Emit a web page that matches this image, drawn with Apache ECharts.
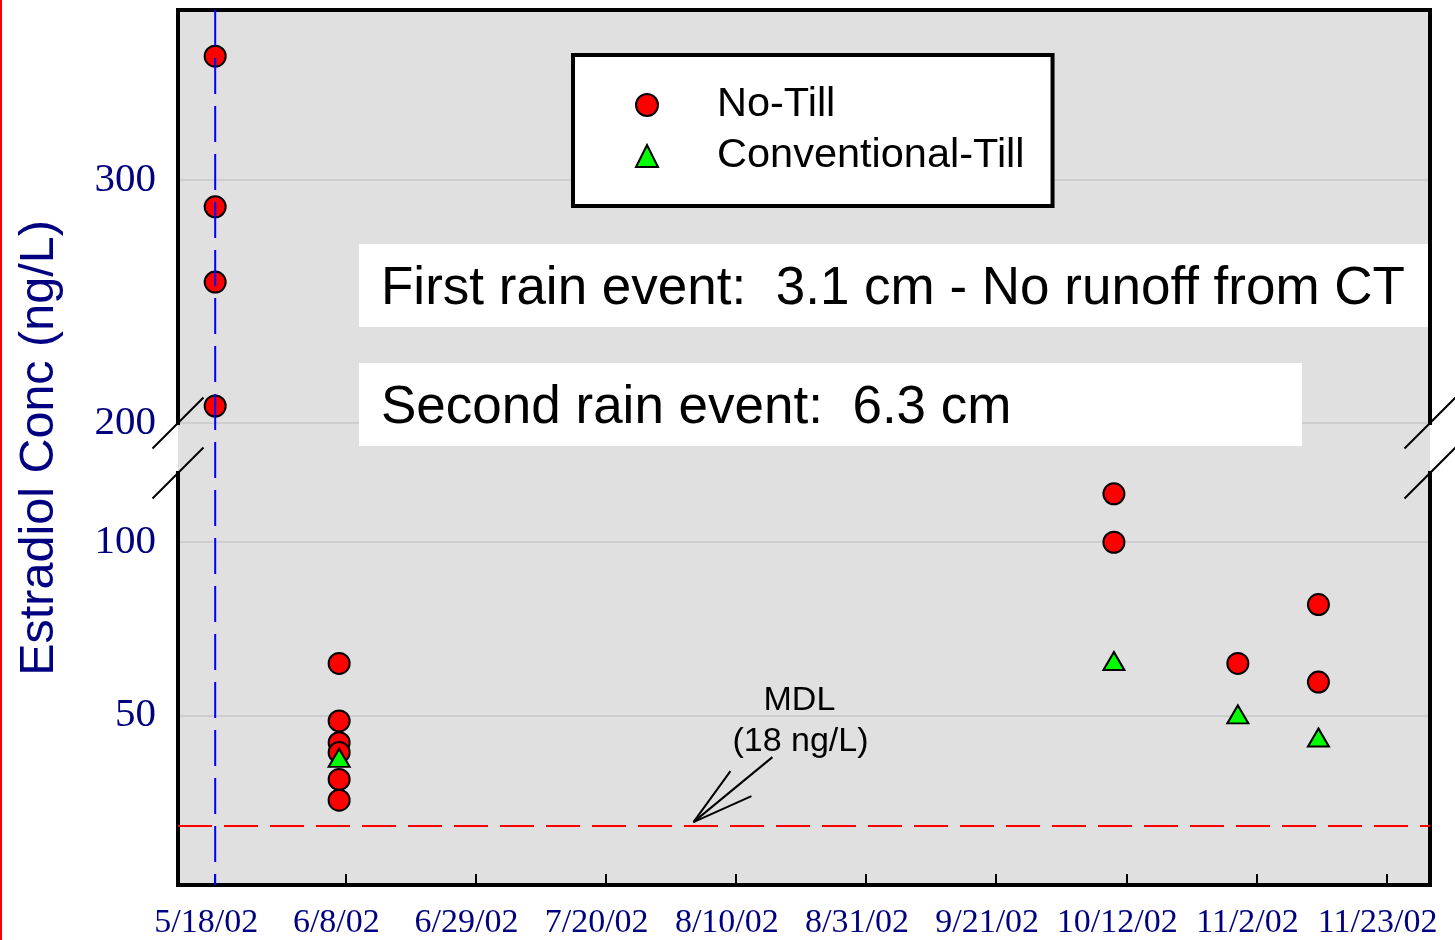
<!DOCTYPE html>
<html>
<head>
<meta charset="utf-8">
<script src="https://cdn.jsdelivr.net/npm/echarts@6/dist/echarts.min.js"></script>
<style>
  html, body { margin: 0; padding: 0; background: #ffffff; }
  #chart { width: 1455px; height: 940px; }
</style>
</head>
<body>
<div id="chart"></div>
<script>
// Estradiol in runoff, 2002 season (ng/L)
const noTillDates = [
  '2002-05-18', '2002-05-18', '2002-05-18', '2002-05-18',
  '2002-06-07', '2002-06-07', '2002-06-07', '2002-06-07', '2002-06-07', '2002-06-07',
  '2002-10-10', '2002-10-10',
  '2002-10-30',
  '2002-11-12', '2002-11-12'
];
const noTillConc = [351, 289, 258, 207, 65, 48.4, 42.1, 39.3, 31.5, 25.5, 114, 100, 65, 82, 59.6];

const convTillDates = ['2002-06-07', '2002-10-10', '2002-10-30', '2002-11-12'];
const convTillConc = [37.7, 65.7, 50.3, 43.6];

// Axis ticks
const dateTicks = ['2002-05-18', '2002-06-08', '2002-06-29', '2002-07-20', '2002-08-10',
                   '2002-08-31', '2002-09-21', '2002-10-12', '2002-11-02', '2002-11-23'];
const upperTicks = [200, 300];
const lowerTicks = [50, 100];

// Broken y-axis: two ranges
const upperRange = [200, 370];
const lowerRange = [1, 120];
const dateRange = ['2002-05-12', '2002-11-30'];

const mdlValue = 18;               // method detection limit
const applicationDate = '2002-05-18';
const mdlArrowDate = '2002-08-03';

const rainNotes = [
  'First rain event:  3.1 cm - No runoff from CT',
  'Second rain event:  6.3 cm'
];

function toTime(s) {
  const p = s.split('-').map(Number);
  return Date.UTC(p[0], p[1] - 1, p[2]);
}
function fmtDate(v) {
  const d = new Date(v);
  return (d.getUTCMonth() + 1) + '/' + d.getUTCDate() + '/' + String(d.getUTCFullYear()).slice(2);
}

const ntPoints = noTillDates.map((d, i) => [toTime(d), noTillConc[i]]);
const ntUpper = ntPoints.filter(p => p[1] >= upperRange[0]);
const ntLower = ntPoints.filter(p => p[1] <= lowerRange[1]);
const ctPoints = convTillDates.map((d, i) => [toTime(d), convTillConc[i]]);

const NAVY = '#000080';
const SERIF = '"Liberation Serif", "Times New Roman", serif';
const SANS = '"Liberation Sans", Arial, sans-serif';
const frameLine = { color: '#000', width: 4, cap: 'square' };
const gridLine = { color: '#c8c8c8', width: 1.5 };

const chart = echarts.init(document.getElementById('chart'), null, { renderer: 'canvas' });

const xMin = toTime(dateRange[0]);
const xMax = toTime(dateRange[1]);

const option = {
  animation: false,
  backgroundColor: '#ffffff',
  grid: [
    { left: 178, right: 25, top: 10, height: 413, show: true, backgroundColor: '#e0e0e0', borderWidth: 0 },
    { left: 178, right: 25, top: 473, bottom: 54, show: true, backgroundColor: '#e0e0e0', borderWidth: 0 }
  ],
  xAxis: [
    {
      type: 'value', gridIndex: 0, position: 'top', min: xMin, max: xMax,
      axisLine: { show: true, lineStyle: frameLine },
      axisTick: { show: false }, axisLabel: { show: false }, splitLine: { show: false }
    },
    {
      type: 'value', gridIndex: 1, position: 'bottom', min: xMin, max: xMax,
      axisLine: { show: true, onZero: false, lineStyle: frameLine },
      axisTick: {
        show: true, inside: true, length: 11,
        customValues: dateTicks.map(toTime),
        lineStyle: { color: '#000', width: 2 }
      },
      axisLabel: {
        customValues: dateTicks.map(toTime),
        formatter: fmtDate,
        fontFamily: SERIF, fontSize: 34, color: NAVY, margin: 21,
        padding: [0, 18, 0, 0]
      },
      splitLine: { show: false }
    }
  ],
  yAxis: [
    {
      type: 'value', gridIndex: 0, position: 'left', min: upperRange[0], max: upperRange[1],
      axisLine: { show: true, lineStyle: frameLine },
      axisTick: { show: false, customValues: upperTicks },
      axisLabel: { customValues: upperTicks, fontFamily: SERIF, fontSize: 41, color: NAVY, margin: 22 },
      splitLine: { show: true, lineStyle: gridLine }
    },
    {
      type: 'value', gridIndex: 1, position: 'left', min: lowerRange[0], max: lowerRange[1],
      axisLine: { show: true, onZero: false, lineStyle: frameLine },
      axisTick: { show: false, customValues: lowerTicks },
      axisLabel: { customValues: lowerTicks, fontFamily: SERIF, fontSize: 41, color: NAVY, margin: 22 },
      splitLine: { show: true, lineStyle: gridLine }
    },
    {
      type: 'value', gridIndex: 0, position: 'right', min: upperRange[0], max: upperRange[1],
      axisLine: { show: true, lineStyle: frameLine },
      axisTick: { show: false }, axisLabel: { show: false }, splitLine: { show: false }
    },
    {
      type: 'value', gridIndex: 1, position: 'right', min: lowerRange[0], max: lowerRange[1],
      axisLine: { show: true, onZero: false, lineStyle: frameLine },
      axisTick: { show: false }, axisLabel: { show: false }, splitLine: { show: false }
    }
  ],
  legend: {
    orient: 'vertical', left: 573, top: 55,
    data: [{ name: 'No-Till', icon: 'circle' }, { name: 'Conventional-Till', icon: 'triangle' }],
    itemWidth: 22, itemHeight: 22, itemGap: 3,
    backgroundColor: '#ffffff', borderColor: '#000', borderWidth: 4, borderRadius: 0,
    padding: [26, 28, 26, 62],
    selectedMode: false,
    textStyle: { fontFamily: SANS, fontSize: 41.5, color: '#000', lineHeight: 42, padding: [6, 0, 0, 54] }
  },
  series: [
    {
      name: 'No-Till', type: 'scatter', xAxisIndex: 0, yAxisIndex: 0,
      symbol: 'circle', symbolSize: 21,
      itemStyle: { color: '#ff0000', borderColor: '#000', borderWidth: 2, opacity: 1 },
      data: ntUpper, z: 3
    },
    {
      name: 'No-Till', type: 'scatter', xAxisIndex: 1, yAxisIndex: 1,
      symbol: 'circle', symbolSize: 21,
      itemStyle: { color: '#ff0000', borderColor: '#000', borderWidth: 2, opacity: 1 },
      data: ntLower, z: 3,
      markLine: {
        silent: true, symbol: 'none', label: { show: false },
        lineStyle: { color: '#ff0000', width: 2, type: [34, 12] },
        data: [{ yAxis: mdlValue }]
      }
    },
    {
      name: 'Conventional-Till', type: 'scatter', xAxisIndex: 1, yAxisIndex: 1,
      symbol: 'triangle', symbolSize: [21, 18],
      itemStyle: { color: '#00ff00', borderColor: '#000', borderWidth: 2, opacity: 1 },
      data: ctPoints, z: 4
    }
  ]
};

chart.setOption(option);

// Overlay: break marks, application line, rain notes, MDL callout, axis title
function overlay() {
  const topLeft = chart.convertToPixel({ xAxisIndex: 0, yAxisIndex: 0 }, [xMin, upperRange[0]]);
  const botLeft = chart.convertToPixel({ xAxisIndex: 1, yAxisIndex: 1 }, [xMin, lowerRange[1]]);
  const rightX = chart.convertToPixel({ xAxisIndex: 1 }, xMax);
  const plotTop = chart.convertToPixel({ yAxisIndex: 0 }, upperRange[1]);
  const plotBottom = chart.convertToPixel({ yAxisIndex: 1 }, lowerRange[0]);
  const appX = chart.convertToPixel({ xAxisIndex: 1 }, toTime(applicationDate));
  const tip = chart.convertToPixel({ xAxisIndex: 1, yAxisIndex: 1 }, [toTime(mdlArrowDate), mdlValue]);
  const leftX = topLeft[0];
  const y1 = topLeft[1], y2 = botLeft[1];
  const b = 25.5;

  const slash = (cx, cy) => ({
    type: 'line', z: 20, silent: true,
    shape: { x1: cx - b, y1: cy + b, x2: cx + b, y2: cy - b },
    style: { stroke: '#000', lineWidth: 2 }
  });

  const tx = tip[0] + 1, ty = tip[1] - 4;
  const arrowLine = (dx, dy) => ({
    type: 'line', z: 20, silent: true,
    shape: { x1: tx, y1: ty, x2: tx + dx, y2: ty + dy },
    style: { stroke: '#000', lineWidth: 2 }
  });

  const noteBox = (x, y, w, h, text) => ({
    type: 'group', z: 30, silent: true,
    children: [
      { type: 'rect', shape: { x: x, y: y, width: w, height: h }, style: { fill: '#ffffff' } },
      { type: 'text', x: x + 22, y: y + h / 2 + 4,
        style: { text: text, fill: '#000', font: '53px ' + SANS, align: 'left', verticalAlign: 'middle' } }
    ]
  });

  chart.setOption({
    graphic: [
      // edge rule on the far left of the page
      { type: 'rect', silent: true, z: 1, shape: { x: 0, y: 0, width: 2, height: 940 }, style: { fill: '#ff0000' } },
      // background across the axis break
      { type: 'rect', silent: true, z: -1,
        shape: { x: leftX, y: y1, width: rightX - leftX, height: y2 - y1 }, style: { fill: '#e0e0e0' } },
      slash(leftX, y1), slash(leftX, y2), slash(rightX, y1), slash(rightX, y2),
      // application date marker
      { type: 'line', silent: true, z: 25,
        shape: { x1: appX, y1: plotTop, x2: appX, y2: plotBottom },
        style: { stroke: '#0000ff', lineWidth: 2, lineDash: [36, 12] } },
      noteBox(359, 244, 1069, 83, rainNotes[0]),
      noteBox(359, 363, 943, 83, rainNotes[1]),
      // MDL callout
      arrowLine(79, -65), arrowLine(37, -51), arrowLine(58, -26),
      { type: 'text', z: 20, silent: true, x: tx + 106, y: ty - 122,
        style: { text: 'MDL', fill: '#000', font: '34px ' + SANS, align: 'center', verticalAlign: 'middle' } },
      { type: 'text', z: 20, silent: true, x: tx + 107, y: ty - 81,
        style: { text: '(18 ng/L)', fill: '#000', font: '34px ' + SANS, align: 'center', verticalAlign: 'middle' } },
      // y-axis title spanning both ranges
      { type: 'text', z: 20, silent: true, x: 40, y: 448, rotation: Math.PI / 2,
        style: { text: 'Estradiol Conc (ng/L)', fill: NAVY, font: '48.5px ' + SANS, align: 'center', verticalAlign: 'middle' } }
    ]
  });
}
overlay();
</script>
</body>
</html>
